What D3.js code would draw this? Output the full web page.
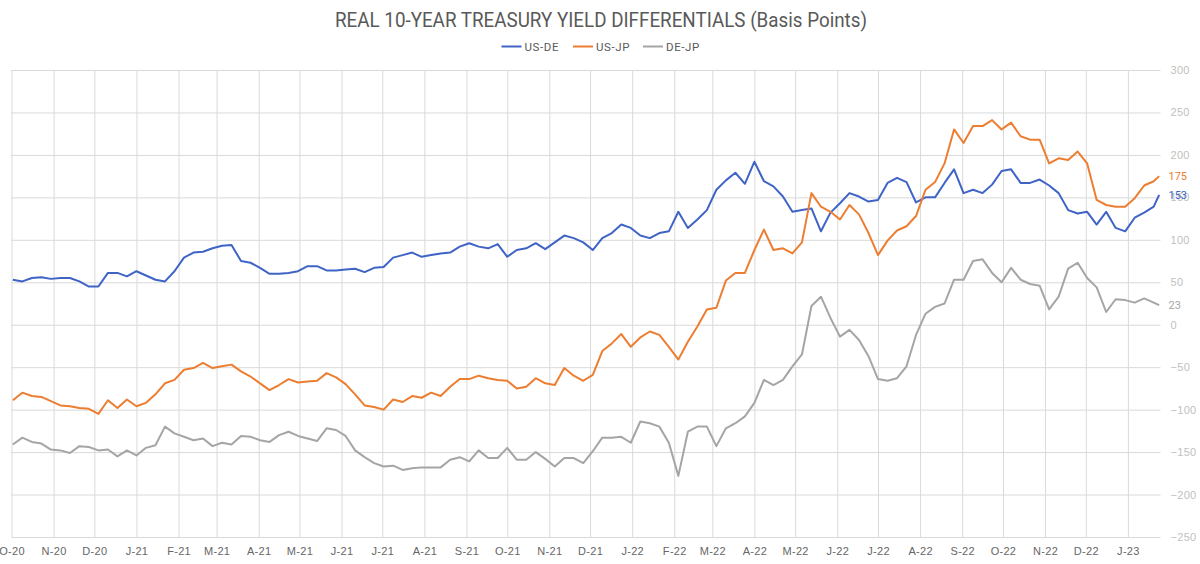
<!DOCTYPE html>
<html><head><meta charset="utf-8">
<script src="https://cdn.jsdelivr.net/npm/d3@7"></script>
<style>
body{margin:0;background:#fff;}
svg{display:block;font-family:Roboto,"DejaVu Sans",sans-serif;}
</style>
</head><body>
<svg id="chart" width="1200" height="564"></svg>
<script>
// ---------- DATA (weekly readings, Fridays from 2020-10-02, last point 2023-01-24) ----------
const startDate = "2020-10-02";
const lastDate = "2023-01-24";
const domainStart = "2020-10-01";
const domainEnd = "2023-01-25";
const seriesNames = ["US-DE", "US-JP", "DE-JP"];
const seriesColors = ["#3F64C6", "#ED7D31", "#A5A5A5"];

const usDe = [53,51,55,56,54,55,55,51,45,45,61,61,57,63,58,53,51,63,79,85,86,90,93,94,75,73,67,60,60,61,63,
  69,69,64,64,65,66,62,67,68,79,82,85,80,82,84,85,92,96,92,90,95,80,88,90,96,89,97,105,102,97,88,
  102,108,118,114,105,102,108,110,133,114,124,135,159,170,179,166,192,169,163,151,133,135,137,110,132,143,155,151,145,147,167,173,
  168,144,150,150,167,183,155,159,155,165,181,183,167,167,171,164,155,135,131,133,118,133,114,110,126,132,139,
  153];

const usJp = [-89,-80,-84,-85,-90,-95,-96,-98,-99,-105,-89,-98,-88,-96,-92,-82,-69,-65,-53,-51,-45,-51,-49,-47,-55,-61,-69,-77,-71,-64,-68,
  -67,-66,-57,-62,-70,-82,-95,-97,-100,-88,-91,-84,-86,-80,-84,-73,-64,-64,-60,-63,-65,-66,-75,-73,-63,-69,-71,-51,-60,-66,-59,
  -31,-22,-11,-26,-15,-8,-12,-26,-41,-20,-2,18,20,52,61,61,88,112,88,90,84,97,155,139,133,124,141,130,108,82,99,111,
  116,128,159,168,190,230,214,234,234,241,230,238,222,218,218,190,196,194,204,190,147,141,139,139,149,164,169,
  175];

const deJp = [-141,-133,-138,-140,-147,-148,-151,-143,-144,-148,-147,-155,-148,-154,-145,-142,-120,-128,-132,-136,-134,-143,-139,-141,-131,-132,-136,-138,-130,-126,-131,
  -134,-137,-122,-124,-131,-148,-156,-163,-167,-166,-171,-169,-168,-168,-168,-159,-156,-161,-148,-157,-157,-145,-159,-159,-150,-158,-167,-157,-157,-163,-149,
  -133,-133,-132,-139,-114,-116,-120,-139,-178,-126,-120,-120,-143,-122,-116,-108,-92,-65,-71,-65,-49,-35,22,33,8,-14,-6,-18,-37,-64,-66,-63,
  -49,-12,13,21,25,53,53,75,77,61,50,67,53,48,46,18,33,66,73,55,44,15,30,29,26,31,26,
  23];

const yTicks = [-250,-200,-150,-100,-50,0,50,100,150,200,250,300];
const monthLetters = ["J","F","M","A","M","J","J","A","S","O","N","D"];
const titleText = "REAL 10-YEAR TREASURY YIELD DIFFERENTIALS (Basis Points)";

// ---------- CHART ----------
(function () {
const parse = d3.timeParse("%Y-%m-%d");
const start = parse(startDate);
const n = usDe.length;
const dates = d3.range(n).map(i => i === n - 1 ? parse(lastDate) : d3.timeDay.offset(start, 7 * i));
const allSeries = [usDe, usJp, deJp];

const svg = d3.select("#chart");
const pLeft = 11.5, pRight = 1160.5, pTop = 70, pBottom = 537;

const x = d3.scaleTime().domain([parse(domainStart), parse(domainEnd)]).range([pLeft, pRight]);
const y = d3.scaleLinear().domain([-250, 300]).range([pBottom, pTop]);

// y grid + right labels
const yAxis = svg.append("g")
  .attr("transform", `translate(${pRight},0)`)
  .call(d3.axisRight(y).tickValues(yTicks).tickSize(-(pRight - pLeft)).tickPadding(10).tickFormat(d3.format("d")));
yAxis.select(".domain").remove();
yAxis.selectAll("line").attr("stroke", "#D9D9D9").attr("stroke-width", 1);
yAxis.selectAll("text").attr("fill", "#BFBFBF").style("font-size", "11px").style("letter-spacing", "0.3px");

// x grid + labels
const months = d3.timeMonth.range(parse(domainStart), parse(domainEnd));
const xAxis = svg.append("g")
  .attr("transform", `translate(0,${pBottom})`)
  .call(d3.axisBottom(x).tickValues(months).tickSize(-(pBottom - pTop)).tickPadding(10)
    .tickFormat(d => monthLetters[d.getMonth()] + "-" + d3.timeFormat("%y")(d)));
xAxis.select(".domain").remove();
xAxis.selectAll("line").attr("stroke", "#D9D9D9").attr("stroke-width", 1);
xAxis.selectAll("text").attr("fill", "#666666").style("font-size", "11px").style("letter-spacing", "0.3px");

// lines
const line = d3.line().x((d, i) => x(dates[i])).y(d => y(d));
allSeries.forEach((s, k) => {
  svg.append("path").datum(s)
    .attr("fill", "none").attr("stroke", seriesColors[k])
    .attr("stroke-width", 2).attr("stroke-linejoin", "round")
    .attr("d", line);
});

// end labels
allSeries.forEach((s, k) => {
  const v = s[s.length - 1];
  svg.append("text")
    .attr("x", pRight + 8).attr("y", y(v)).attr("dy", "0.35em")
    .attr("fill", seriesColors[k]).style("font-size", "11px")
    .text(v);
});

// title
svg.append("text").attr("x", 335).attr("y", 27)
  .attr("textLength", 532).attr("lengthAdjust", "spacingAndGlyphs")
  .attr("fill", "#595959").style("font-size", "19.5px").text(titleText);

// legend
const legendX = [501.5, 573, 643];
seriesNames.forEach((name, k) => {
  const g = svg.append("g").attr("transform", `translate(${legendX[k]},46.5)`);
  g.append("line").attr("x1", 0).attr("x2", 20).attr("y1", 0).attr("y2", 0)
    .attr("stroke", seriesColors[k]).attr("stroke-width", 2);
  g.append("text").attr("x", 23).attr("y", 0).attr("dy", "0.35em")
    .attr("fill", "#595959").style("font-size", "11.5px").style("letter-spacing", "0.6px").text(name);
});
})();
</script>
</body></html>
